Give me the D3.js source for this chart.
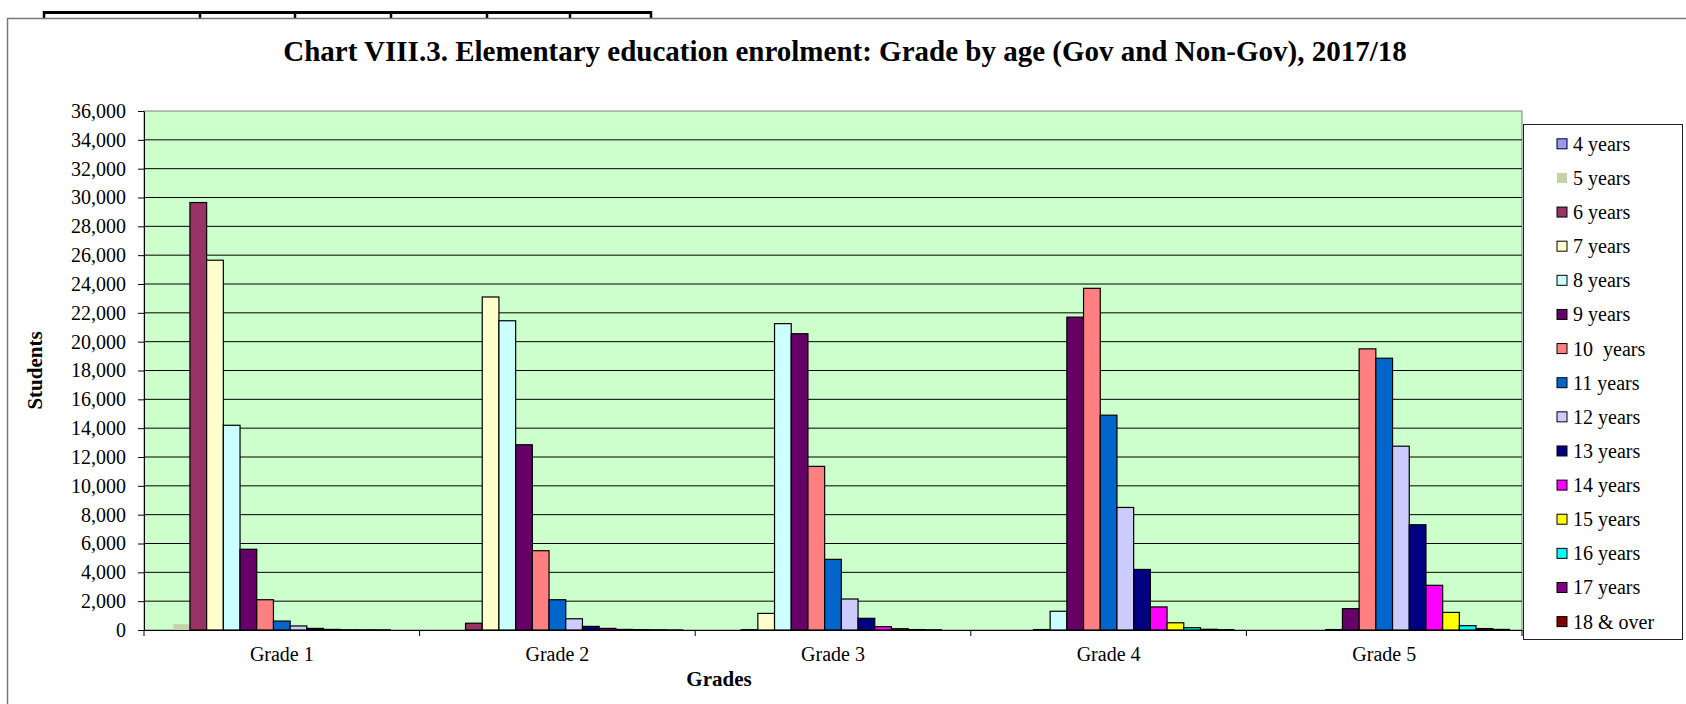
<!DOCTYPE html>
<html>
<head>
<meta charset="utf-8">
<script src="https://cdn.jsdelivr.net/npm/d3@7"></script>
<style>
  html, body { margin: 0; padding: 0; background: #fff; }
  svg { display: block; font-family: "Liberation Serif", "Times New Roman", serif; }
</style>
</head>
<body>
<svg id="chart" width="1686" height="704"></svg>
<script>
// ---- Data ----
const grades = ["Grade 1", "Grade 2", "Grade 3", "Grade 4", "Grade 5"];
const ageLabels = ["4 years", "5 years", "6 years", "7 years", "8 years", "9 years", "10  years",
  "11 years", "12 years", "13 years", "14 years", "15 years", "16 years", "17 years", "18 & over"];
const age4  = [0, 0, 0, 0, 0];
const age5  = [400, 0, 0, 0, 0];
const age6  = [29650, 470, 20, 0, 0];
const age7  = [25650, 23100, 1150, 30, 0];
const age8  = [14200, 21450, 21250, 1300, 30];
const age9  = [5600, 12850, 20550, 21700, 1480];
const age10 = [2100, 5500, 11350, 23700, 19500];
const age11 = [620, 2100, 4900, 14900, 18850];
const age12 = [280, 780, 2150, 8500, 12750];
const age13 = [110, 250, 810, 4200, 7300];
const age14 = [40, 110, 230, 1600, 3100];
const age15 = [20, 40, 90, 500, 1220];
const age16 = [15, 25, 30, 160, 300];
const age17 = [10, 15, 15, 50, 100];
const age18 = [0, 5, 0, 20, 40];
const yTicks = [0, 2000, 4000, 6000, 8000, 10000, 12000, 14000, 16000, 18000,
  20000, 22000, 24000, 26000, 28000, 30000, 32000, 34000, 36000];
const colors = ["#9999FF", "#C4D3A6", "#993366", "#FFFFCC", "#CCFFFF", "#660066", "#FF8080",
  "#0066CC", "#CCCCFF", "#000080", "#FF00FF", "#FFFF00", "#00FFFF", "#800080", "#800000"];

const seriesValues = [age4, age5, age6, age7, age8, age9, age10, age11, age12, age13,
  age14, age15, age16, age17, age18];
const series = ageLabels.map((label, i) => ({ label, values: seriesValues[i], color: colors[i], border: i !== 1 }));

// ---- Layout ----
const svg = d3.select("#chart");
const plot = { left: 144, right: 1522, top: 111, bottom: 630 };

// decorative table remnant at top
const deco = svg.append("g");
deco.append("line").attr("x1", 43).attr("x2", 652).attr("y1", 12.5).attr("y2", 12.5)
  .attr("stroke", "#000").attr("stroke-width", 3);
[44, 200, 295, 391, 487, 570, 651].forEach(x => {
  deco.append("line").attr("x1", x).attr("x2", x).attr("y1", 11).attr("y2", 18)
    .attr("stroke", "#000").attr("stroke-width", 2.5);
});

// chart frame
svg.append("path").attr("d", "M7.5,704 L7.5,18.5 L1686,18.5")
  .attr("fill", "none").attr("stroke", "#777").attr("stroke-width", 1.5);

// title
svg.append("text").attr("x", 845).attr("y", 60.5).attr("text-anchor", "middle")
  .attr("font-size", 29).attr("font-weight", "bold").attr("fill", "#000")
  .text("Chart VIII.3. Elementary education enrolment: Grade by age (Gov and Non-Gov), 2017/18");

// scales
const y = d3.scaleLinear().domain([0, 36000]).range([plot.bottom, plot.top]);
const x0 = d3.scaleBand().domain(grades).range([plot.left, plot.right]).padding(0);
const x1 = d3.scaleBand().domain(ageLabels).range([0, x0.bandwidth()]).paddingInner(0).paddingOuter(0.75);

// plot area
svg.append("rect").attr("x", plot.left).attr("y", plot.top)
  .attr("width", plot.right - plot.left).attr("height", plot.bottom - plot.top)
  .attr("fill", "#CCFFCC").attr("stroke", "#808080").attr("stroke-width", 1);

// gridlines
svg.append("g").selectAll("line").data(yTicks.filter(v => v > 0 && v < 36000)).join("line")
  .attr("x1", plot.left).attr("x2", plot.right)
  .attr("y1", d => y(d)).attr("y2", d => y(d))
  .attr("stroke", "#000").attr("stroke-width", 1);

// bars
const barG = svg.append("g");
series.forEach(s => {
  barG.append("g").selectAll("rect")
    .data(grades.map((g, i) => ({ g, v: s.values[i] })).filter(d => d.v > 0))
    .join("rect")
    .attr("x", d => x0(d.g) + x1(s.label))
    .attr("width", x1.bandwidth())
    .attr("y", d => y(d.v))
    .attr("height", d => y(0) - y(d.v))
    .attr("fill", s.color)
    .attr("stroke", s.border ? "#000" : "none")
    .attr("stroke-width", 1.2);
});

// y axis
const yAxis = d3.axisLeft(y).tickValues(yTicks).tickFormat(d3.format(","))
  .tickSize(6).tickSizeOuter(0).tickPadding(12);
const yg = svg.append("g").attr("transform", `translate(${plot.left},0)`).call(yAxis);
yg.selectAll("text").attr("font-size", 20).attr("font-family", "Liberation Serif").attr("fill", "#000");
yg.selectAll("line").attr("stroke", "#000");
yg.select(".domain").attr("stroke", "#000");

// x axis line and ticks
const xAxis = d3.axisBottom(x0).tickSize(0).tickSizeOuter(0).tickPadding(17);
const xg = svg.append("g").attr("transform", `translate(0,${plot.bottom})`).call(xAxis);
xg.select(".domain").attr("stroke", "#000");
xg.selectAll("text").attr("font-size", 20).attr("font-family", "Liberation Serif").attr("fill", "#000")
  .attr("dy", "0.71em");
const boundaries = grades.map(g => x0(g)).concat([plot.right]);
xg.selectAll("line.bound").data(boundaries).join("line").attr("class", "bound")
  .attr("x1", d => d).attr("x2", d => d).attr("y1", 0).attr("y2", 6)
  .attr("stroke", "#000");

// axis titles
svg.append("text").attr("x", 719).attr("y", 686).attr("text-anchor", "middle")
  .attr("font-size", 21).attr("font-weight", "bold").text("Grades");
svg.append("text").attr("transform", "translate(41.5,370.5) rotate(-90)")
  .attr("text-anchor", "middle").attr("font-size", 21).attr("font-weight", "bold").text("Students");

// legend
const lg = svg.append("g");
lg.append("rect").attr("x", 1523.5).attr("y", 124.5).attr("width", 159).attr("height", 515)
  .attr("fill", "#fff").attr("stroke", "#222").attr("stroke-width", 1);
const items = lg.selectAll("g.item").data(series).join("g").attr("class", "item")
  .attr("transform", (d, i) => `translate(0,${143.8 + i * 34.13})`);
items.append("rect").attr("x", 1557).attr("y", -5).attr("width", 10).attr("height", 10)
  .attr("fill", d => d.color).attr("stroke", d => d.border ? "#000" : "none").attr("stroke-width", 1);
items.append("text").attr("x", 1573).attr("y", 0).attr("dy", "0.35em")
  .attr("font-size", 20).style("white-space", "pre").text(d => d.label);
</script>
</body>
</html>
